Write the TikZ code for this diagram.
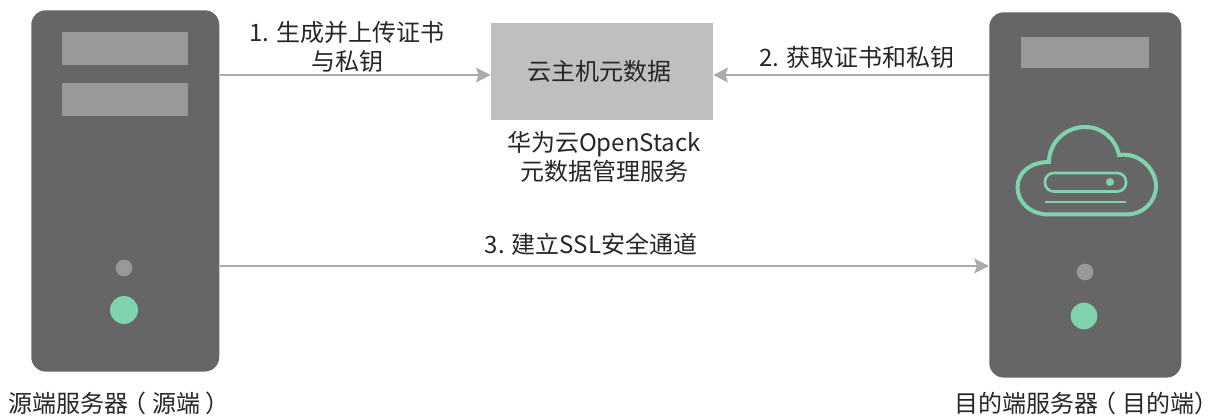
\documentclass[tikz,border=0pt]{standalone}
\usepackage{fontspec}
\setmainfont{Noto Sans CJK SC}
\definecolor{serverfill}{HTML}{666666}
\definecolor{barfill}{HTML}{999999}
\definecolor{metafill}{HTML}{BFBFBF}
\definecolor{arrowgray}{HTML}{ABABAB}
\definecolor{ledgreen}{HTML}{7FD4AD}
\definecolor{labeltext}{HTML}{262626}
\newcommand{\openparen}{\kern-4.5pt（\kern4.5pt}
\newcommand{\closeparen}{\kern4pt）}
\usetikzlibrary{arrows.meta}

\begin{document}
\begin{tikzpicture}[x=.75pt,y=-.75pt,
		every node/.style={font=\fontsize{18}{21.5}\selectfont,text=labeltext,inner sep=0pt,align=center},
		server/.style={fill=serverfill,rounded corners=11pt,anchor=north west},
		bar/.style={fill=barfill,anchor=north west},
		led/.style={circle,fill=#1},
		link/.style={draw=arrowgray,line width=1.9pt,-{Stealth[length=11pt,width=11pt,inset=2pt,fill=arrowgray]}}]
		\useasboundingbox (0,0) rectangle (1217,416);
		% servers
		\node[server,minimum width=141pt,minimum height=271pt] (src) at (31,10) {};
		\node[server,minimum width=144pt,minimum height=274pt] (dst) at (989,12) {};
		\node[bar,minimum width=94pt,minimum height=24.5pt] (srcbara) at (62,32) {};
		\node[bar,minimum width=94pt,minimum height=24.5pt] (srcbarb) at (62,83) {};
		\node[bar,minimum width=96pt,minimum height=23pt] (dstbar) at (1021,37) {};
		\node[led=barfill,minimum size=12.5pt] (srcleda) at (124,268) {};
		\node[led=ledgreen,minimum size=21pt] (srcledb) at (124,310) {};
		\node[led=barfill,minimum size=12.5pt] (dstleda) at (1085,272) {};
		\node[led=ledgreen,minimum size=20pt] (dstledb) at (1084,316) {};
		% cloud icon
		\draw[ledgreen,line width=3pt] (1049,214.5) .. controls (1030,214.5) and (1017.5,202) .. (1017.5,187)
			.. controls (1017.5,173) and (1030,162) .. (1049,162)
			.. controls (1049,142) and (1066,127) .. (1085,127)
			.. controls (1102,127) and (1115,138) .. (1119,155)
			.. controls (1140,152) and (1156,170) .. (1156,186)
			.. controls (1156,202) and (1143,214.5) .. (1126,214.5) -- cycle;
		\draw[ledgreen,line width=2pt,rounded corners=6.5pt] (1045,173) rectangle (1126,191.5);
		\fill[ledgreen] (1110,182) circle (4);
		\draw[ledgreen,line width=2pt] (1045,202) -- (1126,202);
		% metadata box
		\node[fill=metafill,minimum width=166.5pt,minimum height=73pt] (meta) at (602,71.5) {};
		\node (metatext) at (599,71) {云主机元数据};
		\node (metainfo) at (604,157) {华为云OpenStack\\元数据管理服务};
		% links
		\coordinate (top) at (600,75);
		\coordinate (low) at (600,266);
		\draw[link] (src.east |- top) -- (meta.west |- top);
		\draw[link] (dst.west |- top) -- (meta.east |- top);
		\draw[link] (src.east |- low) -- (dst.west |- low);
		% labels
		\node (steponetext) at (347,47) {1. 生成并上传证书\\与私钥};
		\node (steptwotext) at (857,57) {2. 获取证书和私钥};
		\node (stepthreetext) at (591,244) {3. 建立SSL安全通道};
		\node[anchor=west] (srctext) at (8,403) {源端服务器\openparen 源端\closeparen};
		\node[anchor=west] (dsttext) at (954,403) {目的端服务器\openparen 目的端）};
	\end{tikzpicture}
\end{document}
